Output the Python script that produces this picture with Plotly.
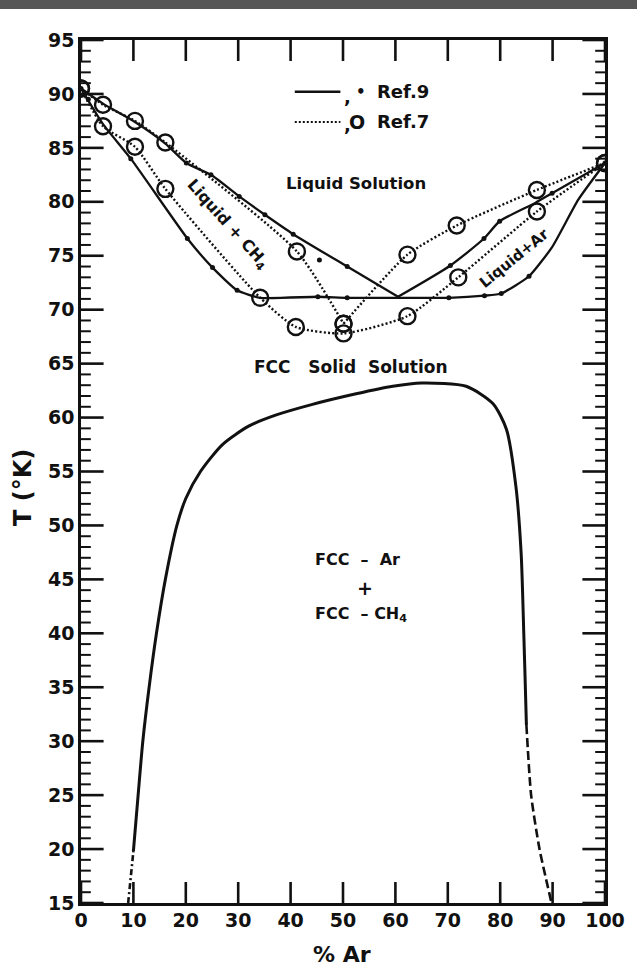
import plotly.graph_objects as go

# ---------------- data ----------------
# Ref.7 (dotted, open circles)
ref7_liq_ch4_x = [0, 4.2, 10.3, 16.1, 41.2, 50.1]
ref7_liq_ch4_y = [90.5, 89.0, 87.5, 85.5, 75.4, 68.7]
ref7_liq_ar_x = [50.1, 62.3, 71.7, 87.0, 100]
ref7_liq_ar_y = [68.7, 75.1, 77.8, 81.1, 83.6]
ref7_sol_x = [0, 4.2, 10.3, 16.1, 34.2, 41.0, 50.1, 62.3, 72.0, 87.0, 100]
ref7_sol_y = [90.5, 87.0, 85.1, 81.2, 71.1, 68.4, 67.8, 69.4, 73.0, 79.1, 83.6]

# Ref.9 (solid, small dots)
ref9_liq_ch4_x = [0, 4.2, 10.3, 16.1, 20.1, 24.8, 30.2, 35.1, 40.5, 50.8, 60.5]
ref9_liq_ch4_y = [90.5, 89.1, 87.4, 85.4, 83.6, 82.5, 80.5, 78.8, 77.0, 74.0, 71.2]
ref9_liq_ar_x = [60.5, 70.5, 76.9, 79.9, 86.7, 89.9, 100]
ref9_liq_ar_y = [71.2, 74.1, 76.6, 78.2, 79.9, 80.8, 83.6]
ref9_sol_x = [0, 4.2, 9.5, 20.3, 25.1, 29.8, 34.2, 45.2, 50.8, 60.5, 70.2, 77.0, 80.2, 85.5, 89.9, 94.9, 100]
ref9_sol_y = [90.5, 87.2, 84.0, 76.6, 73.9, 71.8, 71.1, 71.2, 71.1, 71.1, 71.1, 71.3, 71.5, 73.1, 75.8, 80.2, 83.6]
ref9_dots_x = [0, 1.4, 20.1, 24.8, 30.2, 35.1, 40.5, 45.5, 50.8, 70.5, 76.9, 79.9, 89.9,
               9.5, 20.3, 25.1, 29.8, 45.2, 50.8, 70.2, 77.0, 80.2, 85.5, 100]
ref9_dots_y = [90.5, 89.5, 83.6, 82.5, 80.5, 78.8, 77.0, 74.6, 74.0, 74.1, 76.6, 78.2, 80.8,
               84.0, 76.6, 73.9, 71.8, 71.2, 71.1, 71.1, 71.3, 71.5, 73.1, 83.6]

# Solvus (miscibility gap)
solvus_left_dash_x = [9.0, 10.0]
solvus_left_dash_y = [15.0, 19.8]
solvus_x = [10.0, 10.9, 11.8, 13.0, 14.4, 16.1, 18.3, 20.0, 22.8, 27.0, 32.0, 37.0, 44.0,
            52.5, 59.5, 65.0, 73.5, 78.6, 81.2, 83.0, 84.0, 84.5, 84.8, 85.0]
solvus_y = [19.8, 25.0, 30.0, 35.0, 40.0, 45.0, 50.0, 52.5, 55.0, 57.5, 59.2, 60.2, 61.2,
            62.2, 62.9, 63.2, 62.9, 61.3, 58.9, 53.6, 47.4, 40.0, 35.0, 31.5]
solvus_right_dash_x = [85.0, 85.9, 87.5, 89.8]
solvus_right_dash_y = [31.5, 25.0, 20.0, 15.0]

# axis ticks
x_major = [0, 10, 20, 30, 40, 50, 60, 70, 80, 90, 100]
y_major = [15, 20, 25, 30, 35, 40, 45, 50, 55, 60, 65, 70, 75, 80, 85, 90, 95]
y_minor = [v for v in range(15, 96) if v % 5 != 0]

# ---------------- figure ----------------
INK = "#111111"
FONT = "DejaVu Sans"
W, H = 637, 970
L_M, R_M, T_M, B_M = 81, 23, 40, 67
PW, PH = W - L_M - R_M, H - T_M - B_M
fig = go.Figure()

def dotted(x, y):
    fig.add_trace(go.Scatter(x=x, y=y, mode="lines+markers",
                             line=dict(color=INK, width=2.4, dash="2px,2.2px", shape="spline", smoothing=0.6),
                             marker=dict(symbol="circle-open", size=16, color=INK, line=dict(width=2.4)),
                             hoverinfo="skip", showlegend=False))

def solid(x, y, dash="solid", width=2.3, smoothing=0.6):
    fig.add_trace(go.Scatter(x=x, y=y, mode="lines",
                             line=dict(color=INK, width=width, dash=dash, shape="spline", smoothing=smoothing),
                             hoverinfo="skip", showlegend=False))

dotted(ref7_liq_ch4_x, ref7_liq_ch4_y)
dotted(ref7_liq_ar_x, ref7_liq_ar_y)
dotted(ref7_sol_x, ref7_sol_y)

solid(ref9_liq_ch4_x, ref9_liq_ch4_y)
solid(ref9_liq_ar_x, ref9_liq_ar_y)
solid(ref9_sol_x, ref9_sol_y, smoothing=0.5)
fig.add_trace(go.Scatter(x=ref9_dots_x, y=ref9_dots_y, mode="markers",
                         marker=dict(symbol="circle", size=5, color=INK),
                         hoverinfo="skip", showlegend=False))

solid(solvus_left_dash_x, solvus_left_dash_y, dash="6px,3px,2px,3px", width=2.6)
solid(solvus_x, solvus_y, width=3.0, smoothing=0.7)
solid(solvus_right_dash_x, solvus_right_dash_y, dash="9px,4px", width=2.6)

# ---------------- tick marks (inside, on all four sides) ----------------
shapes = []
def tick_y(v, length_px, width):
    f = length_px / PW
    for a, b in ((0, f), (1 - f, 1)):
        shapes.append(dict(type="line", xref="paper", yref="y", x0=a, x1=b, y0=v, y1=v,
                           line=dict(color=INK, width=width), layer="above"))
def tick_x(v, length_px, width):
    f = length_px / PH
    for a, b in ((0, f), (1 - f, 1)):
        shapes.append(dict(type="line", xref="x", yref="paper", x0=v, x1=v, y0=a, y1=b,
                           line=dict(color=INK, width=width), layer="above"))
for v in y_major:
    tick_y(v, 23, 2.6)
for v in y_minor:
    tick_y(v, 10, 2.0)
for v in x_major:
    tick_x(v, 21, 2.6)

# ---------------- legend (drawn by hand like the original) ----------------
shapes += [
    dict(type="line", xref="x", yref="y", x0=40.8, x1=49.5, y0=90.2, y1=90.2,
         line=dict(color=INK, width=2.6)),
    dict(type="line", xref="x", yref="y", x0=40.8, x1=49.5, y0=87.4, y1=87.4,
         line=dict(color=INK, width=2.2, dash="2px,2px")),
    # grey scan strip at the top of the picture
    dict(type="rect", xref="paper", yref="paper", x0=-0.2, x1=1.1, y0=1 + (T_M - 9) / PH, y1=1.07,
         fillcolor="#575757", line=dict(width=0), layer="above"),
]

def txt(x, y, s, size=16, angle=0, xanchor="center", align="center"):
    return dict(x=x, y=y, xref="x", yref="y", text=s, showarrow=False, textangle=angle,
                xanchor=xanchor, yanchor="middle", align=align,
                font=dict(family=FONT, size=size, color=INK, weight="bold"))

annotations = [
    txt(49.9, 89.8, ",", 18, xanchor="left"),
    txt(53.5, 90.2, "•", 15),
    txt(56.1, 90.2, "Ref.9", 18, xanchor="left"),
    txt(49.9, 87.2, ",", 18, xanchor="left"),
    txt(52.7, 87.4, "O", 19),
    txt(56.1, 87.4, "Ref.7", 18, xanchor="left"),
    txt(52.5, 81.7, "Liquid Solution", 16.5),
    txt(28.0, 77.9, "Liquid + CH<sub>4</sub>", 16, angle=48),
    txt(82.7, 74.8, "Liquid+Ar", 15, angle=-39),
    txt(51.6, 64.7, "FCC   Solid  Solution", 17),
    txt(44.2, 46.8, "FCC  –  Ar", 16, xanchor="left"),
    txt(54.2, 44.2, "+", 19),
    txt(44.2, 41.7, "FCC  – CH<sub>4</sub>", 16, xanchor="left"),
    dict(x=(22 - L_M) / PW, y=1 - (487 - T_M) / PH, xref="paper", yref="paper", text="T (°K)",
         showarrow=False, textangle=-90, xanchor="center", yanchor="middle",
         font=dict(family=FONT, size=24, color=INK, weight="bold")),
    dict(x=(346.5 - L_M) / PW, y=-(954 - (H - B_M)) / PH, xref="paper", yref="paper", text="% Ar",
         showarrow=False, xanchor="center", yanchor="middle",
         font=dict(family=FONT, size=22, color=INK, weight="bold")),
]

fig.update_layout(
    width=W, height=H,
    margin=dict(l=L_M, r=R_M, t=T_M, b=B_M),
    paper_bgcolor="white", plot_bgcolor="white",
    shapes=shapes, annotations=annotations,
    showlegend=False,
)
fig.update_xaxes(range=[0, 100], tickmode="array", tickvals=x_major,
                 ticktext=[str(v) for v in x_major], ticks="", ticklabeloverflow="allow",
                 showline=True, linewidth=2.6, linecolor=INK, mirror=True,
                 showgrid=False, zeroline=False, ticklabelstandoff=-2,
                 tickfont=dict(family=FONT, size=19, color=INK, weight="bold"))
fig.update_yaxes(range=[15, 95], tickmode="array", tickvals=y_major,
                 ticktext=[str(v) for v in y_major], ticks="", ticklabeloverflow="allow",
                 showline=True, linewidth=2.6, linecolor=INK, mirror=True,
                 showgrid=False, zeroline=False, ticklabelstandoff=0,
                 tickfont=dict(family=FONT, size=19, color=INK, weight="bold"))

fig.write_html("out.html")
